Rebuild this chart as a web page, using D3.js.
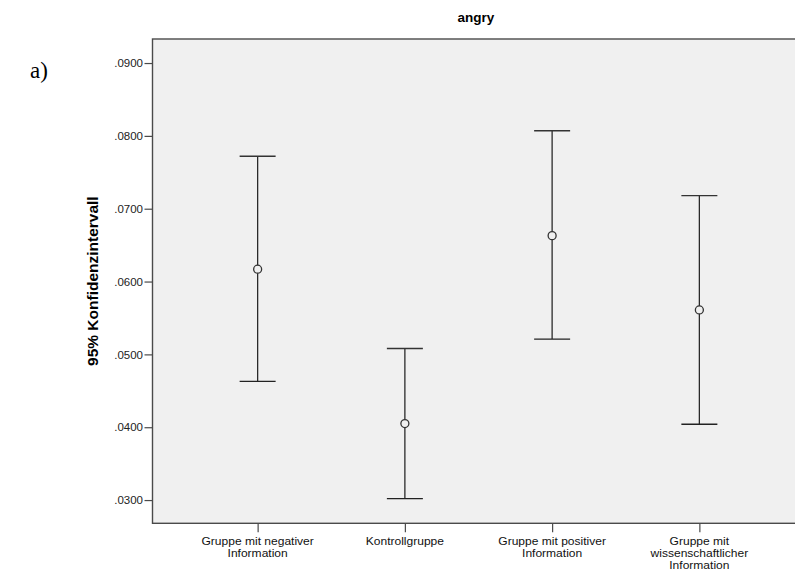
<!DOCTYPE html>
<html>
<head>
<meta charset="utf-8">
<script src="https://cdn.jsdelivr.net/npm/d3@7"></script>
<style>
  html, body { margin: 0; padding: 0; background: #ffffff; }
  svg { display: block; }
</style>
</head>
<body>
<svg id="chart" width="795" height="572"></svg>
<script>
// Groups and their 95% confidence intervals for "angry"
const categories = [
  ["Gruppe mit negativer", "Information"],
  ["Kontrollgruppe"],
  ["Gruppe mit positiver", "Information"],
  ["Gruppe mit", "wissenschaftlicher", "Information"]
];
const means = [0.0617, 0.0405, 0.0663, 0.0561];
const lower = [0.0463, 0.0302, 0.0521, 0.0404];
const upper = [0.0772, 0.0508, 0.0807, 0.0718];
const yTicks = [0.03, 0.04, 0.05, 0.06, 0.07, 0.08, 0.09];

const svg = d3.select("#chart");
const plot = { left: 152.5, top: 39, right: 804.5, bottom: 523.3 };
const sans = "Liberation Sans, Arial, sans-serif";

const keys = categories.map(c => c.join(" "));
const x = d3.scalePoint().domain(keys).range([plot.left, plot.right]).padding(0.714);
const y = d3.scaleLinear().domain([0.02681, 0.09330]).range([plot.bottom, plot.top]);

// Plot area background and frame
svg.append("rect")
  .attr("x", plot.left).attr("y", plot.top)
  .attr("width", plot.right - plot.left).attr("height", plot.bottom - plot.top)
  .attr("fill", "#f0f0f0")
  .attr("stroke", "#4a4a4a").attr("stroke-width", 1.4);

// Title
svg.append("text")
  .attr("x", 476).attr("y", 22)
  .attr("text-anchor", "middle")
  .attr("font-family", sans)
  .attr("font-weight", "bold").attr("font-size", 13.5)
  .attr("fill", "#000")
  .text("angry");

// Panel letter
svg.append("text")
  .attr("x", 30).attr("y", 78)
  .attr("font-family", "Liberation Serif, Times New Roman, serif")
  .attr("font-size", 23)
  .attr("fill", "#000")
  .text("a)");

// Y axis
const yAxis = d3.axisLeft(y)
  .tickValues(yTicks)
  .tickSize(8).tickPadding(1.5)
  .tickFormat(d => d3.format(".4f")(d).replace(/^0/, ""));
const gy = svg.append("g")
  .attr("transform", `translate(${plot.left},0)`)
  .call(yAxis);
gy.select(".domain").remove();
gy.selectAll(".tick line").attr("stroke", "#4a4a4a").attr("stroke-width", 1.2);
gy.selectAll(".tick text")
  .attr("font-family", sans)
  .attr("font-size", 11.5).attr("fill", "#222");

// Y axis title
svg.append("text")
  .attr("transform", `translate(98,${(plot.top + plot.bottom) / 2}) rotate(-90)`)
  .attr("text-anchor", "middle")
  .attr("font-family", sans)
  .attr("font-weight", "bold").attr("font-size", 15.5)
  .attr("fill", "#000")
  .text("95% Konfidenzintervall");

// X axis
const xAxis = d3.axisBottom(x).tickSize(9).tickFormat("");
const gx = svg.append("g")
  .attr("transform", `translate(0,${plot.bottom})`)
  .call(xAxis);
gx.select(".domain").remove();
gx.selectAll(".tick line").attr("stroke", "#4a4a4a").attr("stroke-width", 1.2);

// Multi-line category labels, one text element per line (slightly widened glyphs)
categories.forEach((lines, i) => {
  lines.forEach((ln, j) => {
    svg.append("text")
      .attr("transform", `translate(${x(keys[i])},${545 + j * 12}) scale(1.17,1)`)
      .attr("text-anchor", "middle")
      .attr("font-family", sans)
      .attr("font-size", 10.3).attr("fill", "#111")
      .text(ln);
  });
});

// Error bars
const capHalf = 18;
const bars = svg.append("g").selectAll("g")
  .data(keys.map((k, i) => ({ k, m: means[i], lo: lower[i], hi: upper[i] })))
  .join("g");

bars.append("line")
  .attr("x1", d => x(d.k)).attr("x2", d => x(d.k))
  .attr("y1", d => y(d.hi)).attr("y2", d => y(d.lo))
  .attr("stroke", "#2a2a2a").attr("stroke-width", 1.3);
bars.append("line")
  .attr("x1", d => x(d.k) - capHalf).attr("x2", d => x(d.k) + capHalf)
  .attr("y1", d => y(d.hi)).attr("y2", d => y(d.hi))
  .attr("stroke", "#333").attr("stroke-width", 1.4);
bars.append("line")
  .attr("x1", d => x(d.k) - capHalf).attr("x2", d => x(d.k) + capHalf)
  .attr("y1", d => y(d.lo)).attr("y2", d => y(d.lo))
  .attr("stroke", "#222").attr("stroke-width", 1.4);
bars.append("circle")
  .attr("cx", d => x(d.k)).attr("cy", d => y(d.m))
  .attr("r", 4)
  .attr("fill", "#f0f0f0")
  .attr("stroke", "#333").attr("stroke-width", 1.3);
</script>
</body>
</html>
